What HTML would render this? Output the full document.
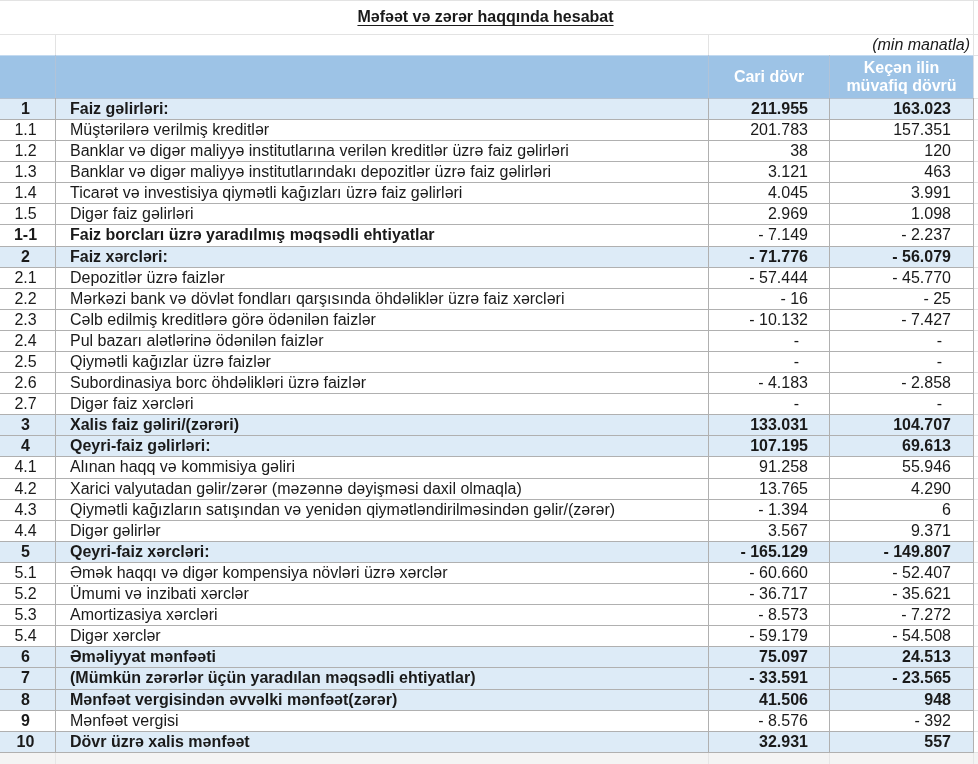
<!DOCTYPE html>
<html lang="az"><head><meta charset="utf-8"><title>Məfəət və zərər haqqında hesabat</title>
<style>
html,body{margin:0;padding:0;background:#fff}
#p{position:relative;width:978px;height:764px;overflow:hidden;background:#fff;font-family:"Liberation Sans",Arial,sans-serif;font-size:16px;color:#1a1a1a;}
#p div{position:absolute;white-space:nowrap;box-sizing:border-box}
.h{height:1px;background:#b0b0b0}
.v{width:1px;background:#b0b0b0}
.lh{height:1px;background:#e3e3e3}
.lv{width:1px;background:#e3e3e3}
.bg{left:0;width:974px;background:#ddebf7}
.t{height:20px;line-height:20px}
.n{left:-2px;width:55px;text-align:center}
.l{left:70px}
.c3{left:709px;width:99px;text-align:right}
.c4{left:830px;width:121px;text-align:right}
.b{font-weight:bold}
.d3{left:709px;width:90px;text-align:right}
.d4{left:830px;width:112px;text-align:right}
</style></head><body><div id="p">

<div class="lh" style="left:0;top:0;width:978px"></div>
<div class="lh" style="left:0;top:34px;width:978px"></div>
<div class="lv" style="left:55px;top:35px;height:20px"></div>
<div class="lv" style="left:708px;top:35px;height:20px"></div>
<div class="lv" style="left:973px;top:0;height:55px"></div>
<div style="left:0;top:753px;width:978px;height:11px;background:#f4f4f4"></div>
<div class="v" style="left:55px;top:753px;height:11px;background:#e6e6e6"></div>
<div class="v" style="left:708px;top:753px;height:11px;background:#e6e6e6"></div>
<div class="v" style="left:829px;top:753px;height:11px;background:#e6e6e6"></div>
<div class="v" style="left:973px;top:753px;height:11px;background:#e6e6e6"></div>
<div class="t b" style="left:0;width:971px;top:7px;text-align:center;text-decoration:underline;text-decoration-thickness:1px;text-underline-offset:3px;text-decoration-skip-ink:none">Məfəət və zərər haqqında hesabat</div>
<div class="t" style="left:709px;width:261px;top:35px;text-align:right;font-style:italic">(min manatla)</div>
<div style="left:0;top:55px;width:974px;height:43px;background:#9dc3e6"></div>
<div class="b" style="left:709px;width:120px;top:67px;height:20px;line-height:20px;text-align:center;color:#fff">Cari dövr</div>
<div class="b" style="left:830px;width:143px;top:59px;line-height:18px;text-align:center;color:#fff;white-space:normal">Keçən ilin<br>müvafiq dövrü</div>
<div class="bg" style="top:99px;height:20px"></div>
<div class="t n b" style="top:99px">1</div>
<div class="t l b" style="top:99px">Faiz gəlirləri:</div>
<div class="t c3 b" style="top:99px">211.955</div>
<div class="t c4 b" style="top:99px">163.023</div>
<div class="t n" style="top:120px">1.1</div>
<div class="t l" style="top:120px">Müştərilərə verilmiş kreditlər</div>
<div class="t c3" style="top:120px">201.783</div>
<div class="t c4" style="top:120px">157.351</div>
<div class="t n" style="top:141px">1.2</div>
<div class="t l" style="top:141px">Banklar və digər maliyyə institutlarına verilən kreditlər üzrə faiz gəlirləri</div>
<div class="t c3" style="top:141px">38</div>
<div class="t c4" style="top:141px">120</div>
<div class="t n" style="top:162px">1.3</div>
<div class="t l" style="top:162px">Banklar və digər maliyyə institutlarındakı depozitlər üzrə faiz gəlirləri</div>
<div class="t c3" style="top:162px">3.121</div>
<div class="t c4" style="top:162px">463</div>
<div class="t n" style="top:183px">1.4</div>
<div class="t l" style="top:183px">Ticarət və investisiya qiymətli kağızları üzrə faiz gəlirləri</div>
<div class="t c3" style="top:183px">4.045</div>
<div class="t c4" style="top:183px">3.991</div>
<div class="t n" style="top:204px">1.5</div>
<div class="t l" style="top:204px">Digər faiz gəlirləri</div>
<div class="t c3" style="top:204px">2.969</div>
<div class="t c4" style="top:204px">1.098</div>
<div class="t n b" style="top:225px">1-1</div>
<div class="t l b" style="top:225px">Faiz borcları üzrə yaradılmış məqsədli ehtiyatlar</div>
<div class="t c3" style="top:225px">- 7.149</div>
<div class="t c4" style="top:225px">- 2.237</div>
<div class="bg" style="top:247px;height:20px"></div>
<div class="t n b" style="top:247px">2</div>
<div class="t l b" style="top:247px">Faiz xərcləri:</div>
<div class="t c3 b" style="top:247px">- 71.776</div>
<div class="t c4 b" style="top:247px">- 56.079</div>
<div class="t n" style="top:268px">2.1</div>
<div class="t l" style="top:268px">Depozitlər üzrə faizlər</div>
<div class="t c3" style="top:268px">- 57.444</div>
<div class="t c4" style="top:268px">- 45.770</div>
<div class="t n" style="top:289px">2.2</div>
<div class="t l" style="top:289px">Mərkəzi bank və dövlət fondları qarşısında öhdəliklər üzrə faiz xərcləri</div>
<div class="t c3" style="top:289px">- 16</div>
<div class="t c4" style="top:289px">- 25</div>
<div class="t n" style="top:310px">2.3</div>
<div class="t l" style="top:310px">Cəlb edilmiş kreditlərə görə ödənilən faizlər</div>
<div class="t c3" style="top:310px">- 10.132</div>
<div class="t c4" style="top:310px">- 7.427</div>
<div class="t n" style="top:331px">2.4</div>
<div class="t l" style="top:331px">Pul bazarı alətlərinə ödənilən faizlər</div>
<div class="t d3" style="top:331px">-</div>
<div class="t d4" style="top:331px">-</div>
<div class="t n" style="top:352px">2.5</div>
<div class="t l" style="top:352px">Qiymətli kağızlar üzrə faizlər</div>
<div class="t d3" style="top:352px">-</div>
<div class="t d4" style="top:352px">-</div>
<div class="t n" style="top:373px">2.6</div>
<div class="t l" style="top:373px">Subordinasiya borc öhdəlikləri üzrə faizlər</div>
<div class="t c3" style="top:373px">- 4.183</div>
<div class="t c4" style="top:373px">- 2.858</div>
<div class="t n" style="top:394px">2.7</div>
<div class="t l" style="top:394px">Digər faiz xərcləri</div>
<div class="t d3" style="top:394px">-</div>
<div class="t d4" style="top:394px">-</div>
<div class="bg" style="top:415px;height:20px"></div>
<div class="t n b" style="top:415px">3</div>
<div class="t l b" style="top:415px">Xalis faiz gəliri/(zərəri)</div>
<div class="t c3 b" style="top:415px">133.031</div>
<div class="t c4 b" style="top:415px">104.707</div>
<div class="bg" style="top:436px;height:20px"></div>
<div class="t n b" style="top:436px">4</div>
<div class="t l b" style="top:436px">Qeyri-faiz gəlirləri:</div>
<div class="t c3 b" style="top:436px">107.195</div>
<div class="t c4 b" style="top:436px">69.613</div>
<div class="t n" style="top:457px">4.1</div>
<div class="t l" style="top:457px">Alınan haqq və kommisiya gəliri</div>
<div class="t c3" style="top:457px">91.258</div>
<div class="t c4" style="top:457px">55.946</div>
<div class="t n" style="top:479px">4.2</div>
<div class="t l" style="top:479px">Xarici valyutadan gəlir/zərər (məzənnə dəyişməsi daxil olmaqla)</div>
<div class="t c3" style="top:479px">13.765</div>
<div class="t c4" style="top:479px">4.290</div>
<div class="t n" style="top:500px">4.3</div>
<div class="t l" style="top:500px">Qiymətli kağızların satışından və yenidən qiymətləndirilməsindən gəlir/(zərər)</div>
<div class="t c3" style="top:500px">- 1.394</div>
<div class="t c4" style="top:500px">6</div>
<div class="t n" style="top:521px">4.4</div>
<div class="t l" style="top:521px">Digər gəlirlər</div>
<div class="t c3" style="top:521px">3.567</div>
<div class="t c4" style="top:521px">9.371</div>
<div class="bg" style="top:542px;height:20px"></div>
<div class="t n b" style="top:542px">5</div>
<div class="t l b" style="top:542px">Qeyri-faiz xərcləri:</div>
<div class="t c3 b" style="top:542px">- 165.129</div>
<div class="t c4 b" style="top:542px">- 149.807</div>
<div class="t n" style="top:563px">5.1</div>
<div class="t l" style="top:563px">Əmək haqqı və digər kompensiya növləri üzrə xərclər</div>
<div class="t c3" style="top:563px">- 60.660</div>
<div class="t c4" style="top:563px">- 52.407</div>
<div class="t n" style="top:584px">5.2</div>
<div class="t l" style="top:584px">Ümumi və inzibati xərclər</div>
<div class="t c3" style="top:584px">- 36.717</div>
<div class="t c4" style="top:584px">- 35.621</div>
<div class="t n" style="top:605px">5.3</div>
<div class="t l" style="top:605px">Amortizasiya xərcləri</div>
<div class="t c3" style="top:605px">- 8.573</div>
<div class="t c4" style="top:605px">- 7.272</div>
<div class="t n" style="top:626px">5.4</div>
<div class="t l" style="top:626px">Digər xərclər</div>
<div class="t c3" style="top:626px">- 59.179</div>
<div class="t c4" style="top:626px">- 54.508</div>
<div class="bg" style="top:647px;height:20px"></div>
<div class="t n b" style="top:647px">6</div>
<div class="t l b" style="top:647px">Əməliyyat mənfəəti</div>
<div class="t c3 b" style="top:647px">75.097</div>
<div class="t c4 b" style="top:647px">24.513</div>
<div class="bg" style="top:668px;height:21px"></div>
<div class="t n b" style="top:668px">7</div>
<div class="t l b" style="top:668px">(Mümkün zərərlər üçün yaradılan məqsədli ehtiyatlar)</div>
<div class="t c3 b" style="top:668px">- 33.591</div>
<div class="t c4 b" style="top:668px">- 23.565</div>
<div class="bg" style="top:690px;height:20px"></div>
<div class="t n b" style="top:690px">8</div>
<div class="t l b" style="top:690px">Mənfəət vergisindən əvvəlki mənfəət(zərər)</div>
<div class="t c3 b" style="top:690px">41.506</div>
<div class="t c4 b" style="top:690px">948</div>
<div class="t n b" style="top:711px">9</div>
<div class="t l" style="top:711px">Mənfəət vergisi</div>
<div class="t c3" style="top:711px">- 8.576</div>
<div class="t c4" style="top:711px">- 392</div>
<div class="bg" style="top:732px;height:20px"></div>
<div class="t n b" style="top:732px">10</div>
<div class="t l b" style="top:732px">Dövr üzrə xalis mənfəət</div>
<div class="t c3 b" style="top:732px">32.931</div>
<div class="t c4 b" style="top:732px">557</div>
<div class="h" style="left:0;top:98px;width:974px;background:#b4c2d2"></div>
<div class="h" style="left:0;top:119px;width:974px"></div>
<div class="h" style="left:0;top:140px;width:974px"></div>
<div class="h" style="left:0;top:161px;width:974px"></div>
<div class="h" style="left:0;top:182px;width:974px"></div>
<div class="h" style="left:0;top:203px;width:974px"></div>
<div class="h" style="left:0;top:224px;width:974px"></div>
<div class="h" style="left:0;top:246px;width:974px"></div>
<div class="h" style="left:0;top:267px;width:974px"></div>
<div class="h" style="left:0;top:288px;width:974px"></div>
<div class="h" style="left:0;top:309px;width:974px"></div>
<div class="h" style="left:0;top:330px;width:974px"></div>
<div class="h" style="left:0;top:351px;width:974px"></div>
<div class="h" style="left:0;top:372px;width:974px"></div>
<div class="h" style="left:0;top:393px;width:974px"></div>
<div class="h" style="left:0;top:414px;width:974px"></div>
<div class="h" style="left:0;top:435px;width:974px"></div>
<div class="h" style="left:0;top:456px;width:974px"></div>
<div class="h" style="left:0;top:478px;width:974px"></div>
<div class="h" style="left:0;top:499px;width:974px"></div>
<div class="h" style="left:0;top:520px;width:974px"></div>
<div class="h" style="left:0;top:541px;width:974px"></div>
<div class="h" style="left:0;top:562px;width:974px"></div>
<div class="h" style="left:0;top:583px;width:974px"></div>
<div class="h" style="left:0;top:604px;width:974px"></div>
<div class="h" style="left:0;top:625px;width:974px"></div>
<div class="h" style="left:0;top:646px;width:974px"></div>
<div class="h" style="left:0;top:667px;width:974px"></div>
<div class="h" style="left:0;top:689px;width:974px"></div>
<div class="h" style="left:0;top:710px;width:974px"></div>
<div class="h" style="left:0;top:731px;width:974px"></div>
<div class="h" style="left:0;top:752px;width:974px"></div>
<div class="h" style="left:0;top:55px;width:973px;background:#c3daf0"></div>
<div class="v" style="left:55px;top:55px;height:43px;background:#b1c3d8"></div>
<div class="v" style="left:55px;top:98px;height:655px"></div>
<div class="v" style="left:708px;top:55px;height:43px;background:#b1c3d8"></div>
<div class="v" style="left:708px;top:98px;height:655px"></div>
<div class="v" style="left:829px;top:55px;height:43px;background:#b1c3d8"></div>
<div class="v" style="left:829px;top:98px;height:655px"></div>
<div class="v" style="left:973px;top:55px;height:43px;background:#d5dde6"></div>
<div class="v" style="left:973px;top:98px;height:655px"></div>
<div class="lh" style="left:974px;top:55px;width:4px"></div>
<div class="lh" style="left:974px;top:98px;width:4px"></div>
<div class="lh" style="left:974px;top:119px;width:4px"></div>
<div class="lh" style="left:974px;top:140px;width:4px"></div>
<div class="lh" style="left:974px;top:161px;width:4px"></div>
<div class="lh" style="left:974px;top:182px;width:4px"></div>
<div class="lh" style="left:974px;top:203px;width:4px"></div>
<div class="lh" style="left:974px;top:224px;width:4px"></div>
<div class="lh" style="left:974px;top:246px;width:4px"></div>
<div class="lh" style="left:974px;top:267px;width:4px"></div>
<div class="lh" style="left:974px;top:288px;width:4px"></div>
<div class="lh" style="left:974px;top:309px;width:4px"></div>
<div class="lh" style="left:974px;top:330px;width:4px"></div>
<div class="lh" style="left:974px;top:351px;width:4px"></div>
<div class="lh" style="left:974px;top:372px;width:4px"></div>
<div class="lh" style="left:974px;top:393px;width:4px"></div>
<div class="lh" style="left:974px;top:414px;width:4px"></div>
<div class="lh" style="left:974px;top:435px;width:4px"></div>
<div class="lh" style="left:974px;top:456px;width:4px"></div>
<div class="lh" style="left:974px;top:478px;width:4px"></div>
<div class="lh" style="left:974px;top:499px;width:4px"></div>
<div class="lh" style="left:974px;top:520px;width:4px"></div>
<div class="lh" style="left:974px;top:541px;width:4px"></div>
<div class="lh" style="left:974px;top:562px;width:4px"></div>
<div class="lh" style="left:974px;top:583px;width:4px"></div>
<div class="lh" style="left:974px;top:604px;width:4px"></div>
<div class="lh" style="left:974px;top:625px;width:4px"></div>
<div class="lh" style="left:974px;top:646px;width:4px"></div>
<div class="lh" style="left:974px;top:667px;width:4px"></div>
<div class="lh" style="left:974px;top:689px;width:4px"></div>
<div class="lh" style="left:974px;top:710px;width:4px"></div>
<div class="lh" style="left:974px;top:731px;width:4px"></div>
<div class="lh" style="left:974px;top:752px;width:4px"></div>
</div></body></html>
